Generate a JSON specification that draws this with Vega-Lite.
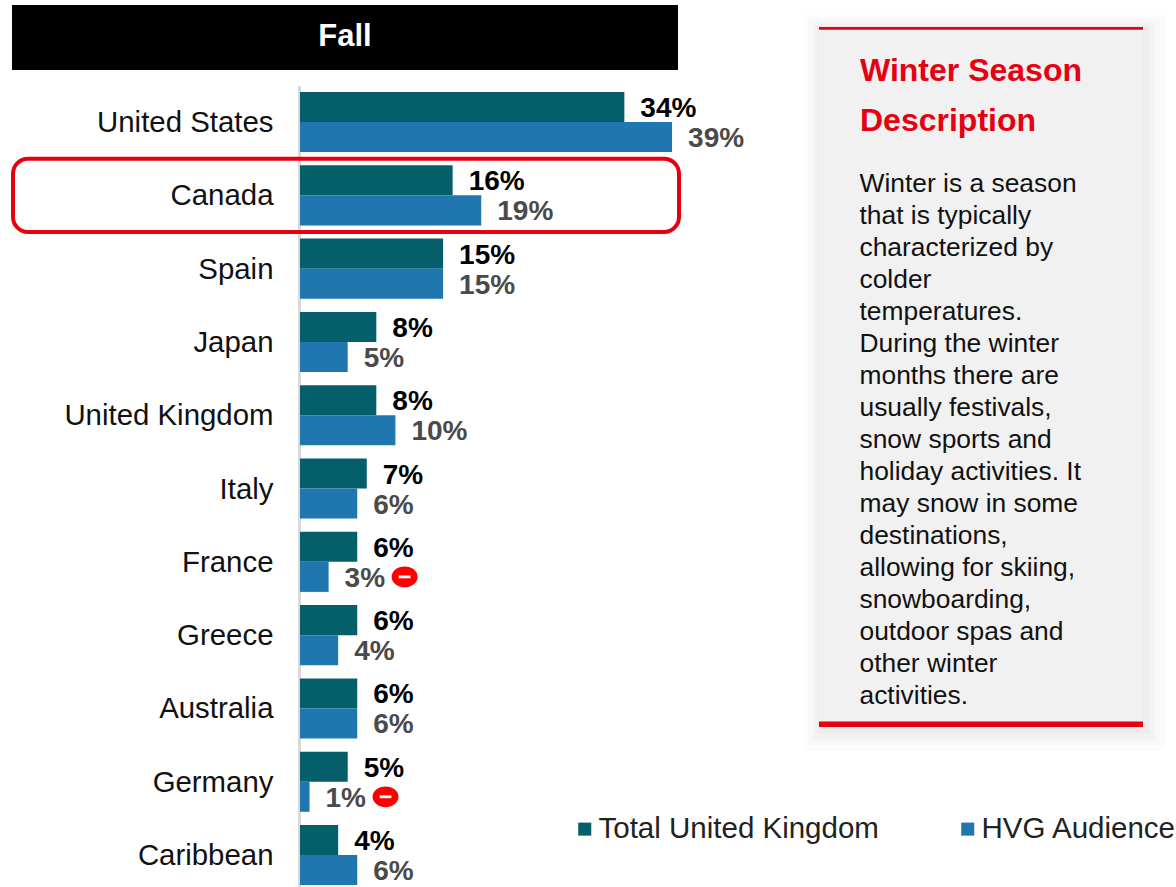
{
  "$schema": "https://vega.github.io/schema/vega-lite/v6.json",
  "width": 1176,
  "height": 887,
  "padding": 0,
  "autosize": "none",
  "background": "white",
  "config": {"view": {"stroke": null}, "font": "Liberation Sans"},
  "datasets": {
    "shares": [
      {"country": "United States", "series": "Total United Kingdom", "value": 0.34},
      {"country": "United States", "series": "HVG Audience", "value": 0.39},
      {"country": "Canada", "series": "Total United Kingdom", "value": 0.16},
      {"country": "Canada", "series": "HVG Audience", "value": 0.19},
      {"country": "Spain", "series": "Total United Kingdom", "value": 0.15},
      {"country": "Spain", "series": "HVG Audience", "value": 0.15},
      {"country": "Japan", "series": "Total United Kingdom", "value": 0.08},
      {"country": "Japan", "series": "HVG Audience", "value": 0.05},
      {"country": "United Kingdom", "series": "Total United Kingdom", "value": 0.08},
      {"country": "United Kingdom", "series": "HVG Audience", "value": 0.10},
      {"country": "Italy", "series": "Total United Kingdom", "value": 0.07},
      {"country": "Italy", "series": "HVG Audience", "value": 0.06},
      {"country": "France", "series": "Total United Kingdom", "value": 0.06},
      {"country": "France", "series": "HVG Audience", "value": 0.03, "flag": "low"},
      {"country": "Greece", "series": "Total United Kingdom", "value": 0.06},
      {"country": "Greece", "series": "HVG Audience", "value": 0.04},
      {"country": "Australia", "series": "Total United Kingdom", "value": 0.06},
      {"country": "Australia", "series": "HVG Audience", "value": 0.06},
      {"country": "Germany", "series": "Total United Kingdom", "value": 0.05},
      {"country": "Germany", "series": "HVG Audience", "value": 0.01, "flag": "low"},
      {"country": "Caribbean", "series": "Total United Kingdom", "value": 0.04},
      {"country": "Caribbean", "series": "HVG Audience", "value": 0.06}
    ],
    "heading": [{"text": "Fall"}],
    "highlighted": [{"country": "Canada"}],
    "panelTitle": [
      {"line": 1, "text": "Winter Season"},
      {"line": 2, "text": "Description"}
    ],
    "panelBody": [
      {"line": 1, "text": "Winter is a season"},
      {"line": 2, "text": "that is typically"},
      {"line": 3, "text": "characterized by"},
      {"line": 4, "text": "colder"},
      {"line": 5, "text": "temperatures."},
      {"line": 6, "text": "During the winter"},
      {"line": 7, "text": "months there are"},
      {"line": 8, "text": "usually festivals,"},
      {"line": 9, "text": "snow sports and"},
      {"line": 10, "text": "holiday activities. It"},
      {"line": 11, "text": "may snow in some"},
      {"line": 12, "text": "destinations,"},
      {"line": 13, "text": "allowing for skiing,"},
      {"line": 14, "text": "snowboarding,"},
      {"line": 15, "text": "outdoor spas and"},
      {"line": 16, "text": "other winter"},
      {"line": 17, "text": "activities."}
    ]
  },
  "resolve": {"scale": {"x": "independent", "y": "independent"}},
  "layer": [
    {
      "description": "Black heading strip above the bars",
      "data": {"name": "heading"},
      "encoding": {
        "x": {"datum": 0, "type": "quantitative", "axis": null, "scale": {"domain": [0, 1], "range": [12, 678]}},
        "y": {"datum": 0, "type": "quantitative", "axis": null, "scale": {"domain": [0, 1], "range": [5, 70]}}
      },
      "layer": [
        {"mark": {"type": "rect", "color": "#000000"}, "encoding": {"x2": {"datum": 1}, "y2": {"datum": 1}}},
        {
          "mark": {"type": "text", "color": "#ffffff", "fontSize": 31, "fontWeight": "bold", "baseline": "middle"},
          "encoding": {
            "x": {"datum": 0.5, "type": "quantitative", "axis": null, "scale": {"domain": [0, 1], "range": [12, 678]}},
            "y": {"datum": 0.49, "type": "quantitative", "axis": null, "scale": {"domain": [0, 1], "range": [5, 70]}},
            "text": {"field": "text"}
          }
        }
      ]
    },
    {
      "description": "Grouped bars, value labels and low-index markers",
      "data": {"name": "shares"},
      "encoding": {
        "y": {
          "field": "country",
          "type": "nominal",
          "sort": null,
          "title": null,
          "scale": {"range": [85.4, 891.7], "paddingInner": 0.18, "paddingOuter": 0.09},
          "axis": {
            "offset": -299,
            "ticks": false,
            "title": null,
            "domainColor": "#d9d9d9",
            "domainWidth": 3,
            "labelFontSize": 29.4,
            "labelColor": "#111111",
            "labelPadding": 26,
            "labelOffset": 1,
            "labelLimit": 300
          }
        },
        "yOffset": {"field": "series", "sort": ["Total United Kingdom", "HVG Audience"]},
        "x": {"field": "value", "type": "quantitative", "axis": null, "scale": {"domain": [0, 1], "range": [300, 1254]}}
      },
      "layer": [
        {
          "mark": {"type": "bar"},
          "encoding": {
            "color": {
              "field": "series",
              "type": "nominal",
              "scale": {"domain": ["Total United Kingdom", "HVG Audience"], "range": ["#055f6b", "#2076ae"]},
              "legend": {
                "title": null,
                "orient": "none",
                "legendX": 570,
                "legendY": 814,
                "direction": "horizontal",
                "columns": 2,
                "symbolType": "square",
                "symbolSize": 170,
                "symbolStrokeWidth": 0,
                "labelFontSize": 29.5,
                "labelColor": "#222222",
                "labelLimit": 400,
                "labelOffset": -1,
                "columnPadding": 74
              }
            }
          }
        },
        {
          "mark": {"type": "text", "align": "left", "baseline": "middle", "dx": 16, "dy": 2, "fontSize": 28, "fontWeight": "bold"},
          "encoding": {
            "text": {"field": "value", "format": ".0%"},
            "color": {
              "condition": {"test": "datum.series === 'HVG Audience'", "value": "#4a4a4a"},
              "value": "#000000"
            }
          }
        },
        {
          "transform": [{"filter": "datum.flag === 'low'"}],
          "mark": {
            "type": "point",
            "filled": true,
            "color": "#ff0000",
            "opacity": 1,
            "size": 676,
            "xOffset": 76,
            "yOffset": 3,
            "shape": "M-1,0A1,0.8 0 1,1 1,0A1,0.8 0 1,1 -1,0Z"
          }
        },
        {
          "transform": [{"filter": "datum.flag === 'low'"}],
          "mark": {
            "type": "point",
            "filled": true,
            "color": "#ffffff",
            "opacity": 1,
            "size": 676,
            "xOffset": 76,
            "yOffset": 3,
            "shape": "M-0.45,-0.11H0.45V0.11H-0.45Z"
          }
        }
      ]
    },
    {
      "description": "Rounded outline around the highlighted row",
      "data": {"name": "highlighted"},
      "mark": {"type": "rect", "fill": null, "stroke": "#e60012", "strokeWidth": 4, "cornerRadius": 15},
      "encoding": {
        "x": {"datum": 0, "type": "quantitative", "axis": null, "scale": {"domain": [0, 1], "range": [13, 679]}},
        "x2": {"datum": 1},
        "y": {
          "field": "country",
          "type": "nominal",
          "axis": null,
          "scale": {
            "domain": ["United States", "Canada", "Spain", "Japan", "United Kingdom", "Italy", "France", "Greece", "Australia", "Germany", "Caribbean"],
            "range": [85.4, 891.7],
            "paddingInner": 0,
            "paddingOuter": 0
          }
        }
      }
    },
    {
      "description": "Side panel: soft shadow, grey card, red rules",
      "data": {"name": "heading"},
      "encoding": {
        "x": {"datum": 0, "type": "quantitative", "axis": null, "scale": {"domain": [0, 1], "range": [819, 1143]}},
        "y": {"datum": 0, "type": "quantitative", "axis": null, "scale": {"domain": [0, 1], "range": [27, 727]}}
      },
      "layer": [
        {
          "mark": {"type": "rect", "color": "#000000", "opacity": 0.012},
          "encoding": {
            "x": {"datum": -0.05, "type": "quantitative", "axis": null, "scale": {"domain": [0, 1], "range": [819, 1143]}},
            "x2": {"datum": 1.07},
            "y": {"datum": -0.018, "type": "quantitative", "axis": null, "scale": {"domain": [0, 1], "range": [27, 727]}},
            "y2": {"datum": 1.033}
          }
        },
        {
          "mark": {"type": "rect", "color": "#000000", "opacity": 0.014},
          "encoding": {
            "x": {"datum": -0.033, "type": "quantitative", "axis": null, "scale": {"domain": [0, 1], "range": [819, 1143]}},
            "x2": {"datum": 1.052},
            "y": {"datum": -0.012, "type": "quantitative", "axis": null, "scale": {"domain": [0, 1], "range": [27, 727]}},
            "y2": {"datum": 1.026}
          }
        },
        {
          "mark": {"type": "rect", "color": "#000000", "opacity": 0.018},
          "encoding": {
            "x": {"datum": -0.018, "type": "quantitative", "axis": null, "scale": {"domain": [0, 1], "range": [819, 1143]}},
            "x2": {"datum": 1.036},
            "y": {"datum": -0.006, "type": "quantitative", "axis": null, "scale": {"domain": [0, 1], "range": [27, 727]}},
            "y2": {"datum": 1.018}
          }
        },
        {
          "mark": {"type": "rect", "color": "#000000", "opacity": 0.022},
          "encoding": {
            "x": {"datum": -0.006, "type": "quantitative", "axis": null, "scale": {"domain": [0, 1], "range": [819, 1143]}},
            "x2": {"datum": 1.02},
            "y": {"datum": -0.002, "type": "quantitative", "axis": null, "scale": {"domain": [0, 1], "range": [27, 727]}},
            "y2": {"datum": 1.01}
          }
        },
        {
          "mark": {"type": "rect", "color": "#f1f1f1"},
          "encoding": {"x2": {"datum": 1}, "y2": {"datum": 1}}
        },
        {
          "mark": {"type": "rect", "color": "#e60012"},
          "encoding": {
            "x2": {"datum": 1},
            "y": {"datum": 0, "type": "quantitative", "axis": null, "scale": {"domain": [0, 1], "range": [27, 727]}},
            "y2": {"datum": 0.004}
          }
        },
        {
          "mark": {"type": "rect", "color": "#e60012"},
          "encoding": {
            "x2": {"datum": 1},
            "y": {"datum": 0.992, "type": "quantitative", "axis": null, "scale": {"domain": [0, 1], "range": [27, 727]}},
            "y2": {"datum": 1}
          }
        }
      ]
    },
    {
      "description": "Panel heading",
      "data": {"name": "panelTitle"},
      "mark": {"type": "text", "align": "left", "baseline": "middle", "color": "#e60012", "fontSize": 32, "fontWeight": "bold"},
      "encoding": {
        "x": {"datum": 0, "type": "quantitative", "axis": null, "scale": {"domain": [0, 1], "range": [860, 1143]}},
        "y": {"field": "line", "type": "ordinal", "axis": null, "scale": {"range": [71, 121], "padding": 0}},
        "text": {"field": "text"}
      }
    },
    {
      "description": "Panel body copy, one row per line",
      "data": {"name": "panelBody"},
      "mark": {"type": "text", "align": "left", "baseline": "middle", "color": "#111111", "fontSize": 26.4},
      "encoding": {
        "x": {"datum": 0, "type": "quantitative", "axis": null, "scale": {"domain": [0, 1], "range": [859.5, 1143]}},
        "y": {"field": "line", "type": "ordinal", "axis": null, "scale": {"range": [184, 696], "padding": 0}},
        "text": {"field": "text"}
      }
    }
  ]
}
